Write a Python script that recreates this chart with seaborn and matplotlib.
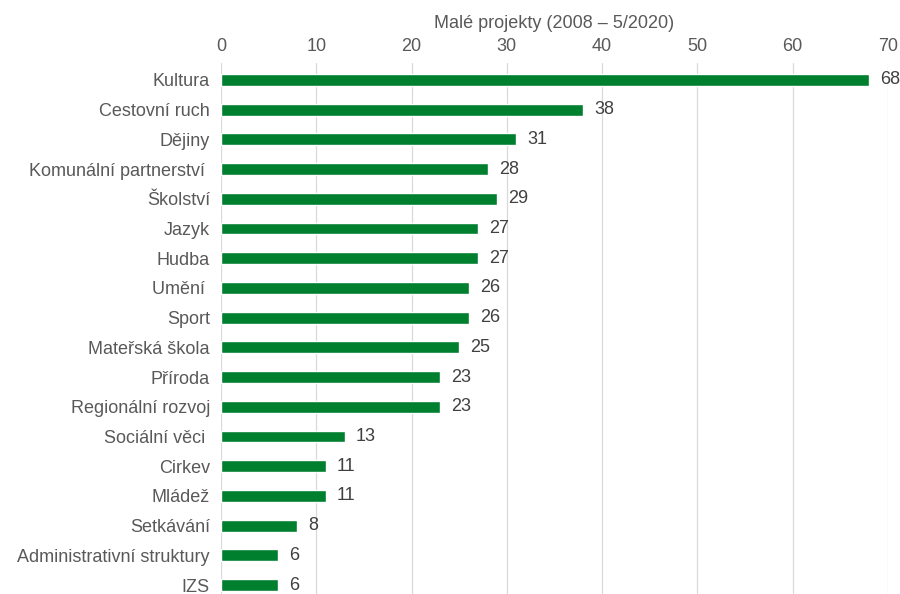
import pandas as pd
import numpy as np
import matplotlib
matplotlib.use("Agg")
import matplotlib.pyplot as plt
import seaborn as sns

categories = ["Kultura", "Cestovní ruch", "Dějiny", "Komunální partnerství ", "Školství",
              "Jazyk", "Hudba", "Umění ", "Sport", "Mateřská škola", "Příroda",
              "Regionální rozvoj", "Sociální věci ", "Cirkev", "Mládež", "Setkávání",
              "Administrativní struktury", "IZS"]
values = [68, 38, 31, 28, 29, 27, 27, 26, 26, 25, 23, 23, 13, 11, 11, 8, 6, 6]
ticks = [0, 10, 20, 30, 40, 50, 60, 70]

df = pd.DataFrame({"kategorie": categories, "pocet": values})

sns.set_style("white")
plt.rcParams['font.family'] = ['Liberation Sans', 'DejaVu Sans']
grey = "#595959"
green = "#00802F"
fs = 13

fig = plt.figure(figsize=(9, 5.94), dpi=100)
ax = fig.add_axes([0.2456, 0.0, 0.7411, 0.894])

sns.barplot(data=df, y="kategorie", x="pocet", orient="h", color=green,
            width=0.4, saturation=1, ax=ax)

ax.set_xlim(0, 70)
ax.set_ylim(17.3, -0.57)
ax.set_xticks(ticks)
ax.xaxis.tick_top()
ax.xaxis.set_label_position("top")
ax.set_xlabel("Malé projekty (2008 – 5/2020)", fontsize=fs, color=grey, labelpad=7)
ax.set_ylabel("")
ax.tick_params(axis="x", length=0, labelsize=fs, labelcolor=grey, pad=6)
ax.tick_params(axis="y", length=0, labelsize=fs, labelcolor=grey, pad=8)
ax.grid(axis="x", color="#d9d9d9", linewidth=0.9)
ax.set_axisbelow(True)
for s in ax.spines.values():
    s.set_visible(False)

for cont in ax.containers:
    ax.bar_label(cont, padding=8, fontsize=fs, color="#404040")

fig.savefig("out.png", dpi=100)
